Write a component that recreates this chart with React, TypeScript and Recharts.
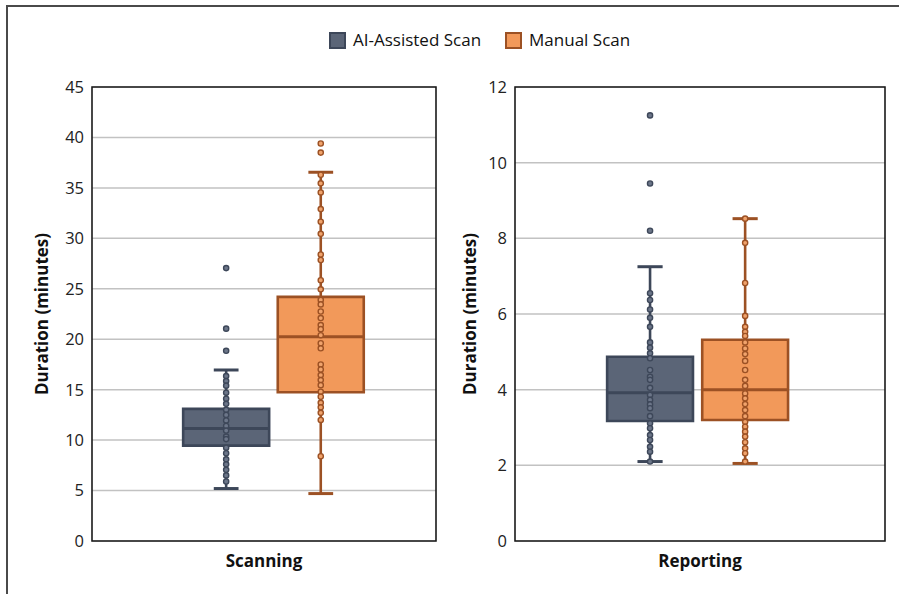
import React from 'react';
import {
  ComposedChart,
  XAxis,
  YAxis,
  CartesianGrid,
  Scatter,
  ReferenceArea,
  ReferenceLine,
} from 'recharts';

// ---------------- data ----------------
const categories = ['Scanning', 'Reporting'];
const seriesNames = ['AI-Assisted Scan', 'Manual Scan'];

// box statistics: [whisker low, Q1, median, Q3, whisker high]
const scanAIBox = [5.2, 9.45, 11.15, 13.1, 16.95];
const scanManualBox = [4.7, 14.75, 20.25, 24.2, 36.55];
const reportAIBox = [2.1, 3.17, 3.92, 4.87, 7.25];
const reportManualBox = [2.05, 3.2, 4.0, 5.32, 8.52];

// individual observations
const scanAIPoints = [
  27.05, 21.05, 18.85, 16.35, 15.85, 15.4, 14.7, 14.1, 13.6, 13.0, 12.5, 11.95, 11.4,
  10.95, 10.35, 10.1, 9.25, 8.7, 8.1, 7.6, 7.05, 6.5, 5.9,
];
const scanManualPoints = [
  39.4, 38.5, 36.3, 35.45, 34.55, 32.9, 31.65, 30.45, 28.4, 27.85, 25.85, 24.95, 23.9,
  23.45, 22.75, 22.1, 21.4, 21.0, 20.4, 19.6, 19.1, 17.5, 17.0, 16.45, 15.95, 15.45,
  14.8, 14.3, 13.7, 13.25, 12.7, 12.0, 8.4,
];
const reportAIPoints = [
  11.25, 9.45, 8.2, 6.55, 6.37, 6.12, 5.9, 5.66, 5.25, 5.11, 4.96, 4.83, 4.52, 4.34, 4.26,
  4.05, 3.86, 3.73, 3.61, 3.51, 3.3, 3.11, 2.98, 2.8, 2.67, 2.49, 2.36, 2.1,
];
const reportManualPoints = [
  8.52, 7.88, 6.82, 5.95, 5.66, 5.53, 5.42, 5.25, 5.09, 4.94, 4.76, 4.52, 4.26, 4.1, 3.9,
  3.77, 3.62, 3.46, 3.3, 3.15, 3.02, 2.89, 2.76, 2.61, 2.45, 2.32, 2.1,
];

const scanTicks = [0, 5, 10, 15, 20, 25, 30, 35, 40, 45];
const reportTicks = [0, 2, 4, 6, 8, 10, 12];
const yAxisTitle = 'Duration (minutes)';

// ---------------- styles ----------------
const FONT = '"Open Sans", "Noto Sans", sans-serif';
const AI_FILL = '#5b6577';
const AI_STROKE = '#3d4759';
const AI_DOT_FILL = '#6c7689';
const MAN_FILL = '#f2995a';
const MAN_STROKE = '#9c5124';
const MAN_DOT_FILL = '#f0a36c';

function boxElements(
  stats: number[],
  cx: number,
  half: number,
  capHalf: number,
  fill: string,
  stroke: string,
  k: string
) {
  const [lo, q1, med, q3, hi] = stats;
  return [
    <ReferenceLine
      key={k + 'w1'}
      segment={[{ x: cx, y: lo }, { x: cx, y: q1 }]}
      stroke={stroke}
      strokeWidth={2.6}
      ifOverflow="visible"
    />,
    <ReferenceLine
      key={k + 'w2'}
      segment={[{ x: cx, y: q3 }, { x: cx, y: hi }]}
      stroke={stroke}
      strokeWidth={2.6}
      ifOverflow="visible"
    />,
    <ReferenceLine
      key={k + 'c1'}
      segment={[{ x: cx - capHalf, y: lo }, { x: cx + capHalf, y: lo }]}
      stroke={stroke}
      strokeWidth={3}
      ifOverflow="visible"
    />,
    <ReferenceLine
      key={k + 'c2'}
      segment={[{ x: cx - capHalf, y: hi }, { x: cx + capHalf, y: hi }]}
      stroke={stroke}
      strokeWidth={3}
      ifOverflow="visible"
    />,
    <ReferenceArea
      key={k + 'box'}
      x1={cx - half}
      x2={cx + half}
      y1={q1}
      y2={q3}
      fill={fill}
      fillOpacity={1}
      stroke={stroke}
      strokeWidth={2.6}
      ifOverflow="visible"
    />,
    <ReferenceLine
      key={k + 'med'}
      segment={[{ x: cx - half, y: med }, { x: cx + half, y: med }]}
      stroke={stroke}
      strokeWidth={3}
      ifOverflow="visible"
    />,
  ];
}

const dotShape = (fill: string, stroke: string) => (props: any) => {
  if (props.cx == null || props.cy == null) return <g />;
  return <circle cx={props.cx} cy={props.cy} r={2.6} fill={fill} stroke={stroke} strokeWidth={1.4} />;
};

type PanelProps = {
  left: number;
  width: number;
  marginLeft: number;
  category: string;
  yMax: number;
  ticks: number[];
  aiBox: number[];
  manBox: number[];
  aiPts: number[];
  manPts: number[];
  aiX: number;
  manX: number;
  half: number;
  capHalf: number;
  labelOffset: number;
};

function Panel(p: PanelProps) {
  const aiData = p.aiPts.map((v) => ({ x: p.aiX, y: v }));
  const manData = p.manPts.map((v) => ({ x: p.manX, y: v }));
  return (
    <div style={{ position: 'absolute', left: p.left, top: 0 }}>
      <ComposedChart
        width={p.width}
        height={594}
        margin={{ top: 87, right: 14, bottom: 13, left: p.marginLeft }}
      >
        <CartesianGrid horizontal vertical={false} stroke="#c2c2c2" strokeWidth={1.5} />
        <XAxis
          type="number"
          dataKey="x"
          domain={[0, 1]}
          ticks={[0.5]}
          tickFormatter={() => p.category}
          axisLine={false}
          tickLine={false}
          tickMargin={8}
          height={40}
          allowDataOverflow
          tick={{ fontSize: 17, fontWeight: 700, fill: '#111', fontFamily: FONT }}
        />
        <YAxis
          type="number"
          dataKey="y"
          domain={[0, p.yMax]}
          ticks={p.ticks}
          interval={0}
          axisLine={false}
          tickLine={false}
          width={60}
          allowDataOverflow
          tick={{ fontSize: 16.5, fill: '#222', fontFamily: FONT }}
          label={{
            value: yAxisTitle,
            angle: -90,
            position: 'insideLeft',
            offset: p.labelOffset,
            style: { textAnchor: 'middle', fontSize: 17, fontWeight: 700, fill: '#111', fontFamily: FONT },
          }}
        />
        <ReferenceArea
          x1={0}
          x2={1}
          y1={0}
          y2={p.yMax}
          fill="none"
          fillOpacity={0}
          stroke="#1a1a1a"
          strokeWidth={1.6}
          ifOverflow="visible"
        />
        {boxElements(p.aiBox, p.aiX, p.half, p.capHalf, AI_FILL, AI_STROKE, 'ai')}
        {boxElements(p.manBox, p.manX, p.half, p.capHalf, MAN_FILL, MAN_STROKE, 'man')}
        <Scatter
          name={seriesNames[0]}
          data={aiData}
          isAnimationActive={false}
          shape={dotShape(AI_DOT_FILL, AI_STROKE)}
        />
        <Scatter
          name={seriesNames[1]}
          data={manData}
          isAnimationActive={false}
          shape={dotShape(MAN_DOT_FILL, MAN_STROKE)}
        />
      </ComposedChart>
    </div>
  );
}

function LegendItem({ label, fill, stroke }: { label: string; fill: string; stroke: string }) {
  return (
    <div style={{ display: 'flex', alignItems: 'center', marginRight: 24 }}>
      <div
        style={{
          width: 13,
          height: 13,
          background: fill,
          border: `2px solid ${stroke}`,
          marginRight: 7,
        }}
      />
      <span style={{ fontSize: 17, color: '#111', fontFamily: FONT, lineHeight: '22px' }}>{label}</span>
    </div>
  );
}

export default function App() {
  return (
    <div
      style={{
        position: 'absolute',
        left: 0,
        top: 0,
        width: 899,
        height: 594,
        overflow: 'hidden',
        background: '#fff',
        fontFamily: FONT,
      }}
    >
      <div
        style={{
          position: 'absolute',
          left: 6,
          top: 5,
          width: 910,
          height: 610,
          borderTop: '2px solid #4a4a4a',
          borderLeft: '2px solid #4a4a4a',
        }}
      />
      <div
        style={{
          position: 'absolute',
          left: 329,
          top: 29,
          display: 'flex',
          alignItems: 'center',
          height: 22,
        }}
      >
        <LegendItem label={seriesNames[0]} fill={AI_FILL} stroke={AI_STROKE} />
        <LegendItem label={seriesNames[1]} fill={MAN_FILL} stroke={MAN_STROKE} />
      </div>
      <Panel
        left={0}
        width={450}
        marginLeft={32}
        category={categories[0]}
        yMax={45}
        ticks={scanTicks}
        aiBox={scanAIBox}
        manBox={scanManualBox}
        aiPts={scanAIPoints}
        manPts={scanManualPoints}
        aiX={0.39}
        manX={0.665}
        half={0.125}
        capHalf={0.036}
        labelOffset={10}
      />
      <Panel
        left={440}
        width={459}
        marginLeft={15}
        category={categories[1]}
        yMax={12}
        ticks={reportTicks}
        aiBox={reportAIBox}
        manBox={reportManualBox}
        aiPts={reportAIPoints}
        manPts={reportManualPoints}
        aiX={0.365}
        manX={0.622}
        half={0.116}
        capHalf={0.034}
        labelOffset={15}
      />
    </div>
  );
}
